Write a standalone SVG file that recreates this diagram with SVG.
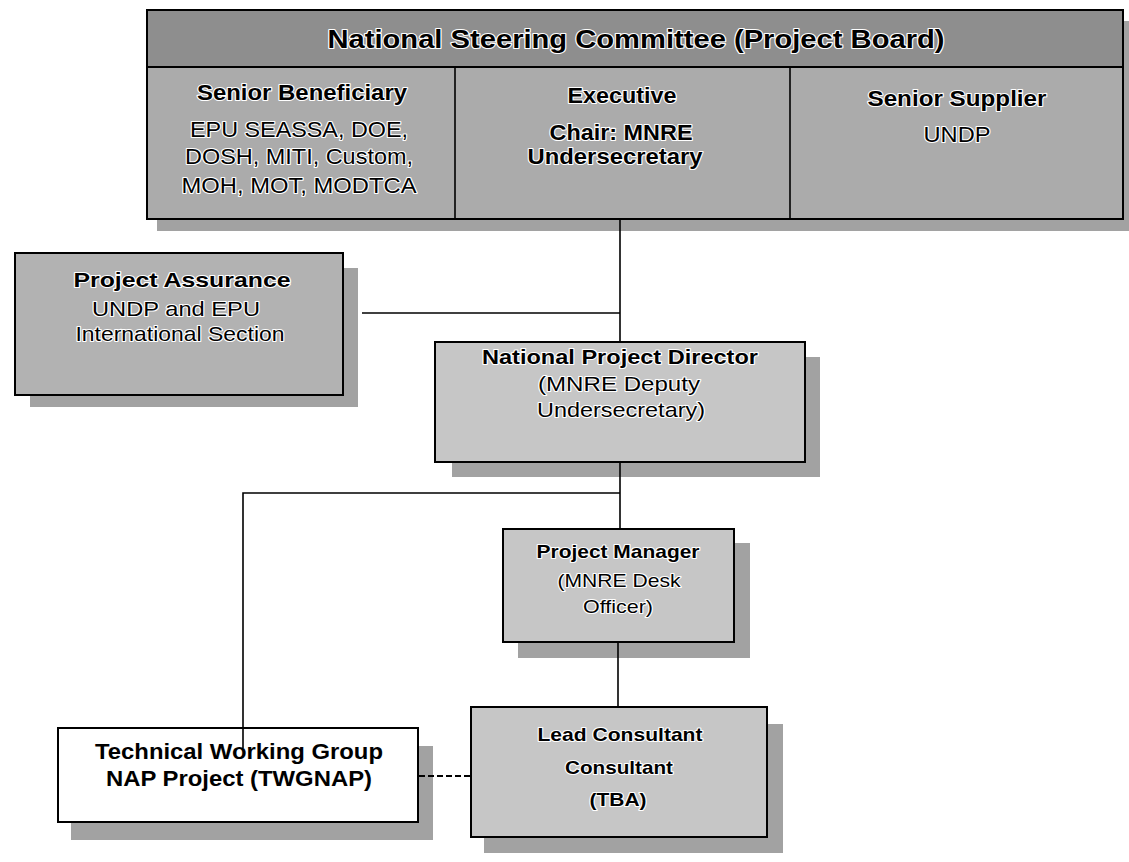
<svg xmlns="http://www.w3.org/2000/svg" width="1129" height="862" viewBox="0 0 1129 862">
<style>
  .box{stroke:#000;stroke-width:2}
  .shadow{fill:#a2a2a2}
  .hdr{fill:#8e8e8e}
  .body{fill:#ababab}
  .pa{fill:#b2b2b2}
  .lt{fill:#c6c6c6}
  .t{font-family:"Liberation Sans",Arial,sans-serif;text-anchor:middle;fill:#000;stroke:#fff;stroke-width:2.2;paint-order:stroke;stroke-linejoin:round}
  .b{font-weight:bold}
  .plain{font-family:"Liberation Sans",Arial,sans-serif;text-anchor:middle;fill:#000;font-weight:bold}
  .ln{stroke:#000;stroke-width:1.6;fill:none}
  .dash{stroke:#000;stroke-width:1.8;fill:none;stroke-dasharray:6,3}
</style>
<rect width="1129" height="862" fill="#fff"/>

<g id="board">
  <rect class="shadow" x="157" y="21" width="972" height="210"/>
  <rect class="box body" x="147" y="10" width="976" height="209"/>
  <rect class="box hdr" x="147" y="10" width="976" height="57"/>
  <line class="ln" x1="455" y1="67" x2="455" y2="219" stroke-width="2"/>
  <line class="ln" x1="790" y1="67" x2="790" y2="219" stroke-width="2"/>
  <text class="t b" x="636" y="48" font-size="26" textLength="617" lengthAdjust="spacingAndGlyphs">National Steering Committee (Project Board)</text>
  <g id="senior-beneficiary">
    <text class="t b" x="302" y="100" font-size="22" textLength="210" lengthAdjust="spacingAndGlyphs">Senior Beneficiary</text>
    <text class="t" x="299" y="137" font-size="22" textLength="218" lengthAdjust="spacingAndGlyphs">EPU SEASSA, DOE,</text>
    <text class="t" x="299" y="164" font-size="22" textLength="228" lengthAdjust="spacingAndGlyphs">DOSH, MITI, Custom,</text>
    <text class="t" x="299" y="193" font-size="22" textLength="235" lengthAdjust="spacingAndGlyphs">MOH, MOT, MODTCA</text>
  </g>
  <g id="executive">
    <text class="t b" x="622" y="103" font-size="22" textLength="109" lengthAdjust="spacingAndGlyphs">Executive</text>
    <text class="t b" x="621" y="140" font-size="22" textLength="143" lengthAdjust="spacingAndGlyphs">Chair: MNRE</text>
    <text class="t b" x="615" y="164" font-size="22" textLength="175" lengthAdjust="spacingAndGlyphs">Undersecretary</text>
  </g>
  <g id="senior-supplier">
    <text class="t b" x="957" y="106" font-size="22" textLength="179" lengthAdjust="spacingAndGlyphs">Senior Supplier</text>
    <text class="t" x="957" y="142" font-size="22" textLength="67" lengthAdjust="spacingAndGlyphs">UNDP</text>
  </g>
</g>

<g id="project-assurance">
  <rect class="shadow" x="30" y="268" width="328" height="139"/>
  <rect class="box pa" x="15" y="253" width="328" height="142"/>
  <text class="t b" x="182" y="287" font-size="21" textLength="217" lengthAdjust="spacingAndGlyphs">Project Assurance</text>
  <text class="t" x="176" y="316" font-size="21" textLength="168" lengthAdjust="spacingAndGlyphs">UNDP and EPU</text>
  <text class="t" x="180" y="341" font-size="21" textLength="209" lengthAdjust="spacingAndGlyphs">International Section</text>
</g>

<g id="national-project-director">
  <rect class="shadow" x="452" y="357" width="368" height="120"/>
  <rect class="box lt" x="435" y="342" width="370" height="120"/>
  <text class="t b" x="620" y="364" font-size="21" textLength="276" lengthAdjust="spacingAndGlyphs">National Project Director</text>
  <text class="t" x="619" y="391" font-size="21" textLength="162" lengthAdjust="spacingAndGlyphs">(MNRE Deputy</text>
  <text class="t" x="621" y="417" font-size="21" textLength="168" lengthAdjust="spacingAndGlyphs">Undersecretary)</text>
</g>

<g id="project-manager">
  <rect class="shadow" x="518" y="543" width="232" height="115"/>
  <rect class="box lt" x="503" y="529" width="231" height="113"/>
  <text class="t b" x="618" y="558" font-size="19" textLength="163" lengthAdjust="spacingAndGlyphs">Project Manager</text>
  <text class="t" x="619" y="587" font-size="19" textLength="123" lengthAdjust="spacingAndGlyphs">(MNRE Desk</text>
  <text class="t" x="618" y="613" font-size="19" textLength="70" lengthAdjust="spacingAndGlyphs">Officer)</text>
</g>

<g id="lead-consultant">
  <rect class="shadow" x="484" y="724" width="299" height="129"/>
  <rect class="box lt" x="471" y="707" width="296" height="130"/>
  <text class="t b" x="620" y="741" font-size="19" textLength="165" lengthAdjust="spacingAndGlyphs">Lead Consultant</text>
  <text class="t b" x="619" y="774" font-size="19" textLength="108" lengthAdjust="spacingAndGlyphs">Consultant</text>
  <text class="t b" x="618" y="806" font-size="19" textLength="57" lengthAdjust="spacingAndGlyphs">(TBA)</text>
</g>

<g id="twgnap">
  <rect class="shadow" x="71" y="746" width="362" height="94"/>
  <rect class="box" fill="#fff" x="58" y="728" width="360" height="94"/>
  <text class="plain" x="239" y="759" font-size="22" textLength="288" lengthAdjust="spacingAndGlyphs">Technical Working Group</text>
  <text class="plain" x="239" y="786" font-size="22" textLength="266" lengthAdjust="spacingAndGlyphs">NAP Project (TWGNAP)</text>
</g>

<g id="connectors">
  <line class="ln" x1="620" y1="220" x2="620" y2="342"/>
  <line class="ln" x1="362" y1="313" x2="620" y2="313"/>
  <line class="ln" x1="620" y1="462" x2="620" y2="529"/>
  <polyline class="ln" points="620,493 243,493 243,748"/>
  <line class="ln" x1="618" y1="642" x2="618" y2="707"/>
  <line class="dash" x1="419" y1="776" x2="471" y2="776"/>
</g>
</svg>
